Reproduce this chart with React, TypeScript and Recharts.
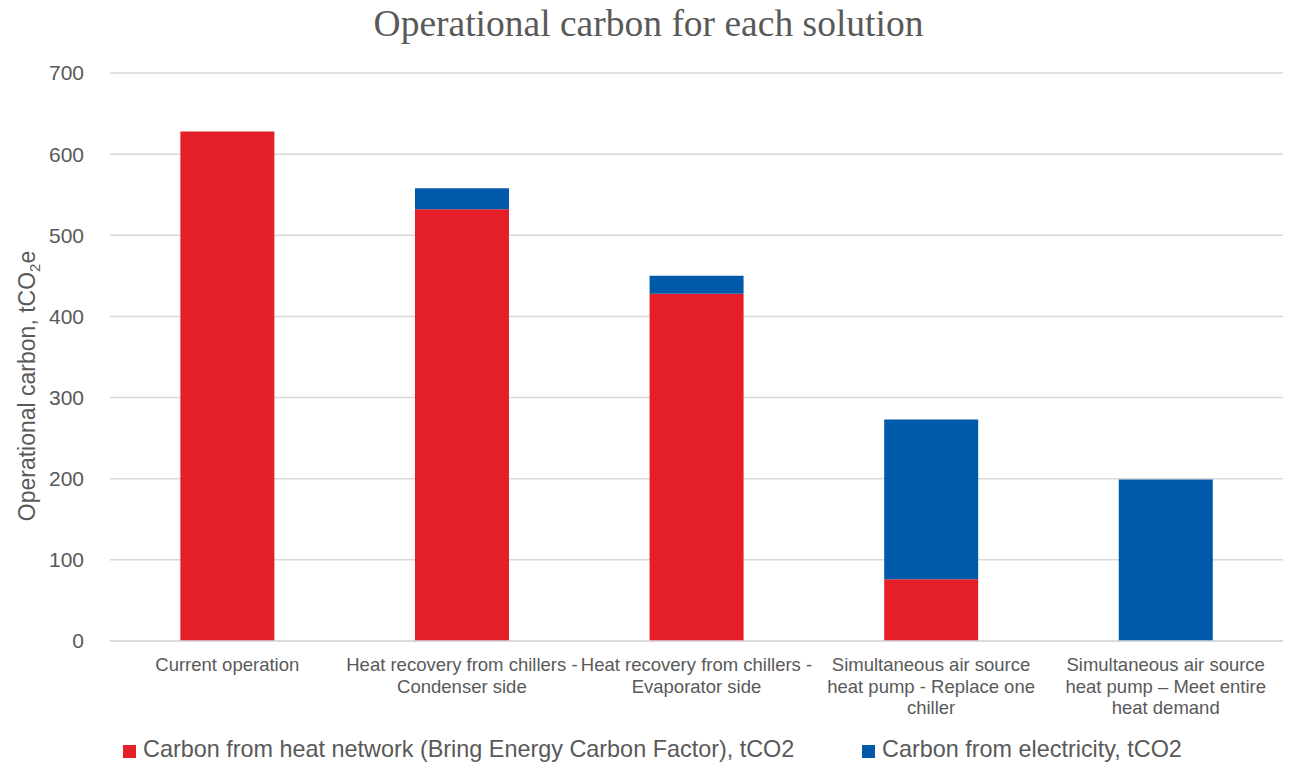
import { Bar, BarChart, CartesianGrid, XAxis, YAxis } from "recharts";

const categories = [
  "Current operation",
  "Heat recovery from chillers - Condenser side",
  "Heat recovery from chillers - Evaporator side",
  "Simultaneous air source heat pump - Replace one chiller",
  "Simultaneous air source heat pump – Meet entire heat demand",
];

const categoryLines = [
  ["Current operation"],
  ["Heat recovery from chillers -", "Condenser side"],
  ["Heat recovery from chillers -", "Evaporator side"],
  ["Simultaneous air source", "heat pump - Replace one", "chiller"],
  ["Simultaneous air source", "heat pump – Meet entire", "heat demand"],
];

const heatNetwork = [628, 532, 428, 76, 0];
const electricity = [0, 26, 22, 197, 199];

const yTicks = [0, 100, 200, 300, 400, 500, 600, 700];

const seriesNames = [
  "Carbon from heat network (Bring Energy Carbon Factor), tCO2",
  "Carbon from electricity, tCO2",
];

const RED = "#E41F27";
const BLUE = "#0059A9";
const TEXT = "#595959";
const SANS = "Liberation Sans, Arial, sans-serif";

const data = categories.map((name, i) => ({
  name,
  heat: heatNetwork[i],
  elec: electricity[i],
}));

function CategoryTick(props: any) {
  const { x, y, payload } = props;
  const lines = categoryLines[payload.index] ?? [payload.value];
  return (
    <text x={x} y={y} textAnchor="middle" fill={TEXT} fontSize={18.5} fontFamily={SANS}>
      {lines.map((line: string, i: number) => (
        <tspan key={i} x={x} dy={i === 0 ? 22 : 21.5}>
          {line}
        </tspan>
      ))}
    </text>
  );
}

export default function App() {
  return (
    <div
      style={{
        position: "absolute",
        left: 0,
        top: 0,
        width: 1289,
        height: 763,
        background: "#fff",
        fontFamily: SANS,
      }}
    >
      <div
        style={{
          position: "absolute",
          top: 2,
          left: 0,
          width: 1297,
          textAlign: "center",
          fontFamily: "Liberation Serif, Times New Roman, serif",
          fontSize: 37.5,
          color: TEXT,
        }}
      >
        Operational carbon for each solution
      </div>
      <BarChart
        width={1289}
        height={763}
        data={data}
        margin={{ top: 73, right: 6, left: 0, bottom: 32 }}
        barCategoryGap="30%"
      >
        <CartesianGrid stroke="#D9D9D9" strokeWidth={1.5} vertical={false} />
        <XAxis
          dataKey="name"
          axisLine={{ stroke: "#D9D9D9", strokeWidth: 1.5 }}
          tickLine={false}
          interval={0}
          height={90}
          tick={<CategoryTick />}
        />
        <YAxis
          domain={[0, 700]}
          ticks={yTicks}
          width={110}
          axisLine={false}
          tickLine={false}
          tickMargin={20}
          tick={{ fill: TEXT, fontSize: 21, fontFamily: SANS }}
        />
        <Bar dataKey="heat" stackId="a" fill={RED} isAnimationActive={false} />
        <Bar dataKey="elec" stackId="a" fill={BLUE} isAnimationActive={false} />
        <text
          transform="translate(35 386) rotate(-90)"
          textAnchor="middle"
          fill={TEXT}
          fontSize={23}
          fontFamily={SANS}
        >
          Operational carbon, tCO
          <tspan fontSize={15} dy={5}>2</tspan>
          <tspan dy={-5}>e</tspan>
        </text>
      </BarChart>
      <div
        style={{
          position: "absolute",
          top: 736,
          left: 123,
          display: "flex",
          fontSize: 23.4,
          color: TEXT,
          whiteSpace: "nowrap",
        }}
      >
        {seriesNames.map((name, i) => (
          <div
            key={name}
            style={{ display: "flex", alignItems: "center", position: "absolute", left: i === 0 ? 0 : 739 }}
          >
            <span
              style={{
                display: "inline-block",
                width: 13,
                height: 13,
                marginRight: 7,
                marginTop: 4,
                background: i === 0 ? RED : BLUE,
              }}
            />
            {name}
          </div>
        ))}
      </div>
    </div>
  );
}
